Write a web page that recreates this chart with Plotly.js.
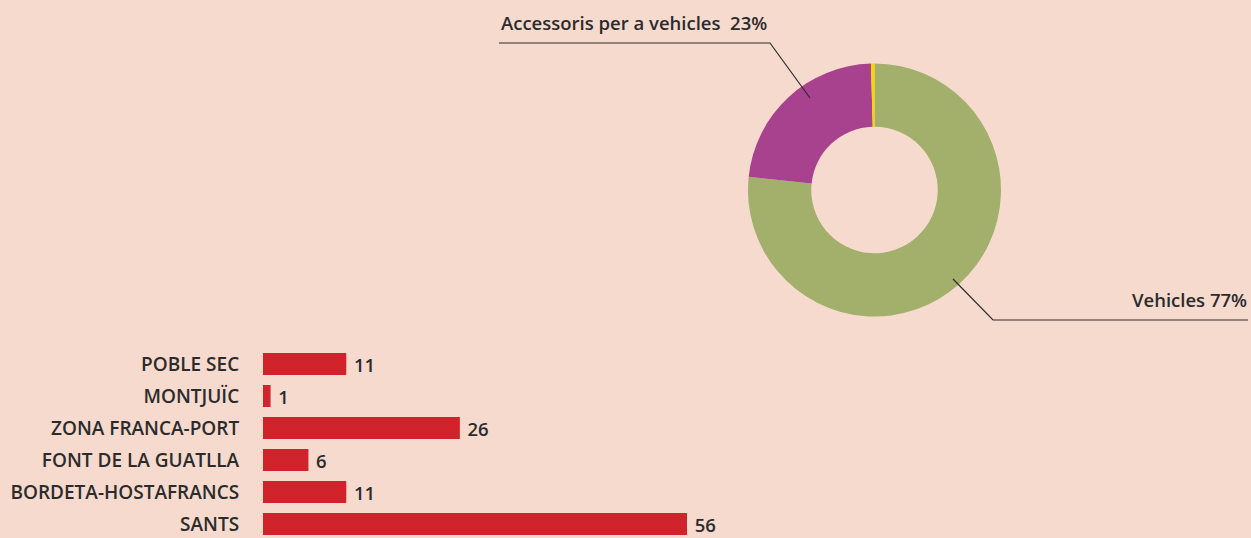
<!DOCTYPE html>
<html>
<head>
<meta charset="utf-8">
<script src="https://cdn.plot.ly/plotly-3.0.1.min.js"></script>
<style>
html,body{margin:0;padding:0;background:#f6dace;}
#chart{width:1251px;height:538px;}
</style>
</head>
<body>
<div id="chart"></div>
<script>
// Donut data
const pieLabels = ["Vehicles", "Accessoris per a vehicles", ""];
const pieValues = [77, 23, 0.45];
const pieColors = ["#a2b06c", "#a8418e", "#f7d600"];

// Bar data (top to bottom)
const barCategories = ["POBLE SEC", "MONTJUÏC", "ZONA FRANCA-PORT", "FONT DE LA GUATLLA", "BORDETA-HOSTAFRANCS", "SANTS"];
const barValues = [11, 1, 26, 6, 11, 56];

const W = 1251, H = 538;
const px = x => x / W;
const py = y => 1 - y / H;

const font = "Open Sans, Noto Sans, sans-serif";
const txt = "#2b2b2b";

const pie = {
  type: "pie",
  labels: pieLabels,
  values: pieValues,
  marker: {colors: pieColors, line: {width: 0}},
  hole: 0.5,
  sort: false,
  direction: "clockwise",
  rotation: 0,
  textinfo: "none",
  hoverinfo: "label+percent",
  showlegend: false,
  domain: {x: [px(748), px(1001)], y: [py(317), py(63)]}
};

const bars = {
  type: "bar",
  orientation: "h",
  y: barCategories,
  x: barValues,
  text: barValues.map(v => "\u2005" + v),
  textposition: "outside",
  constraintext: "none",
  cliponaxis: false,
  textfont: {family: font, size: 18.5, color: txt, weight: 600},
  marker: {color: "#d0232b"},
  xaxis: "x",
  yaxis: "y",
  showlegend: false
};

const layout = {
  width: W, height: H,
  margin: {l: 0, r: 0, t: 0, b: 0},
  paper_bgcolor: "#f6dace",
  plot_bgcolor: "rgba(0,0,0,0)",
  bargap: 0.3125,
  uniformtext: {mode: false},
  xaxis: {
    domain: [px(263), px(687)],
    range: [0, 56],
    visible: false,
    fixedrange: true
  },
  yaxis: {
    domain: [0, 200 / H],
    type: "category",
    categoryorder: "array",
    categoryarray: barCategories.slice().reverse(),
    range: [-0.4375, 5.8125],
    showgrid: false, zeroline: false, showline: false,
    ticks: "outside", ticklen: 19, tickcolor: "rgba(0,0,0,0)",
    tickfont: {family: font, size: 19, color: txt, weight: 600},
    automargin: false
  },
  annotations: [
    {xref: "paper", yref: "paper", x: px(769), y: py(23), xanchor: "right", yanchor: "middle",
     text: "Accessoris per a vehicles&nbsp;&nbsp;23%", showarrow: false,
     font: {family: font, size: 18.5, color: txt, weight: 600}},
    {xref: "paper", yref: "paper", x: px(1249), y: py(299), xanchor: "right", yanchor: "middle",
     text: "Vehicles 77%", showarrow: false,
     font: {family: font, size: 18.5, color: txt, weight: 600}}
  ],
  shapes: [
    {type: "path", xref: "paper", yref: "paper",
     path: `M ${px(499)} ${py(43)} L ${px(770)} ${py(43)} L ${px(810)} ${py(98)}`,
     line: {color: "#2b2b2b", width: 1.2}},
    {type: "path", xref: "paper", yref: "paper",
     path: `M ${px(1248)} ${py(320)} L ${px(993)} ${py(320)} L ${px(953)} ${py(279)}`,
     line: {color: "#2b2b2b", width: 1.2}}
  ]
};

Plotly.newPlot("chart", [pie, bars], layout, {displayModeBar: false, staticPlot: true});
</script>
</body>
</html>
